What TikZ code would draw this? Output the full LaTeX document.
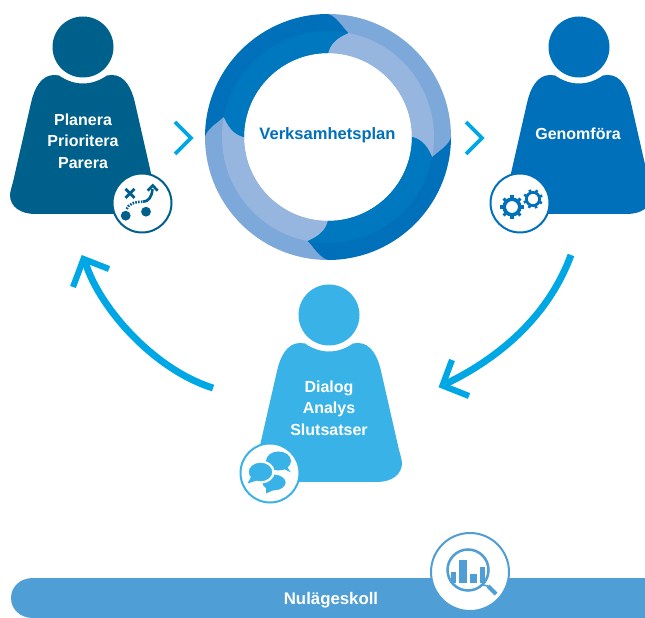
\documentclass[tikz,border=0pt]{standalone}
\usepackage{fontspec}
\usetikzlibrary{calc}
\setmainfont{Liberation Sans}
\definecolor{cplan}{HTML}{00608C}
\definecolor{cgen}{HTML}{0070BA}
\definecolor{cdia}{HTML}{39B3E7}
\definecolor{cbar}{HTML}{4F9ED6}
\definecolor{carrow}{HTML}{00A7E5}
\definecolor{ringdo}{HTML}{0070BA}
\definecolor{ringdi}{HTML}{0078BF}
\definecolor{ringlo}{HTML}{7DA8DA}
\definecolor{ringli}{HTML}{97B6DF}
\tikzset{
  x=0.75pt,y=0.75pt,
  label text/.style={font=\bfseries\fontsize{12}{16}\selectfont,text=white,align=center,inner sep=0pt},
  flow/.style={draw=carrow,line width=5.2pt,line cap=butt},
  head/.style={draw=carrow,line width=4.6pt,line join=miter,miter limit=10},
  chev/.style={draw=carrow,line width=2.8pt,line join=miter,miter limit=10},
  badge/.style={fill=white,draw=#1,line width=1.5pt},
}
\newcommand{\personbody}{
  (24,-28.5) .. controls (16,-34) and (8,-36.5) .. (0,-36.5)
  .. controls (-8,-36.5) and (-16,-34) .. (-24,-28.5)
  .. controls (-26,-28) and (-27,-28) .. (-29,-28)
  .. controls (-42,-28) and (-49,-42) .. (-52,-56)
  -- (-70,-135) .. controls (-72,-142) and (-73,-146) .. (-73,-148)
  .. controls (-73,-160) and (-62,-167) .. (-48,-167)
  -- (48,-167) .. controls (62,-167) and (73,-160) .. (73,-148)
  .. controls (73,-146) and (72,-142) .. (70,-135)
  -- (52,-56) .. controls (49,-42) and (42,-28) .. (29,-28)
  .. controls (27,-28) and (26,-28) .. (24,-28.5) -- cycle}
\newcommand{\segpath}[1]{
  (#1:123) arc[start angle=#1,end angle=#1-90,radius=123]
  .. controls ({#1-90-4}:121) and ({#1-90-7}:112) .. ({#1-90-11}:106)
  .. controls ({#1-90-3}:98) and ({#1-90-1}:90) .. ({#1-90}:84)
  arc[start angle=#1-90,end angle=#1,radius=84]
  .. controls ({#1-1}:90) and ({#1-3}:98) .. ({#1-11}:106)
  .. controls ({#1-7}:112) and ({#1-4}:121) .. (#1:123) -- cycle}
\newcommand{\ringseg}[3]{%
  \fill[#2] \segpath{#1};
  \begin{scope}
    \clip \segpath{#1};
    \fill[#3] (0,0) circle[radius=106];
  \end{scope}}
% centre, rotation, ring radius, ring width, tooth inner, tooth outer, tooth width
\newcommand{\gear}[7]{%
  \begin{scope}[shift={(#1)}]
    \draw[cgen,line width=#4] (0,0) circle[radius=#3];
    \foreach \a in {0,45,...,315}
      \draw[cgen,line width=#7] (\a+#2:#5) -- (\a+#2:#6);
  \end{scope}}
\begin{document}
\begin{tikzpicture}
\useasboundingbox (0,0) rectangle (645,617);
\clip (0,0) rectangle (645,617);
\fill[white] (0,0) rectangle (645,617);

% ring
\begin{scope}[shift={(328,480)}]
  \ringseg{90}{ringlo}{ringli}
  \ringseg{270}{ringlo}{ringli}
  \ringseg{180}{ringdo}{ringdi}
  \ringseg{360}{ringdo}{ringdi}
\end{scope}
\node[font=\bfseries\fontsize{12.4}{16}\selectfont,text=cgen,inner sep=0pt] (plan) at (327.5,481.5) {Verksamhetsplan};

% person 1
\begin{scope}[shift={(83,570)}]
  \fill[cplan] (0,0) circle[radius=30.5];
  \fill[cplan] \personbody;
\end{scope}
\node[label text] (planera) at (83,476) {Planera\\Prioritera\\Parera};

% person 3
\begin{scope}[shift={(579,570)}]
  \fill[cgen] (0,0) circle[radius=30.5];
  \fill[cgen] \personbody;
\end{scope}
\node[label text] (genomfora) at (578,483) {Genomföra};

% person 2
\begin{scope}[shift={(329,302)}]
  \fill[cdia] (0,0) circle[radius=30.5];
  \fill[cdia] \personbody;
\end{scope}
\node[label text] (dialog) at (329,209) {Dialog\\Analys\\Slutsatser};

% chevrons
\coordinate (c1a) at (175,495); \coordinate (c1b) at (191,479); \coordinate (c1c) at (175,463);
\coordinate (c2a) at (466,495); \coordinate (c2b) at (482,479); \coordinate (c2c) at (466,463);
\draw[chev] (c1a) -- (c1b) -- (c1c);
\draw[chev] (c2a) -- (c2b) -- (c2c);

% flow arrows
\coordinate (a1s) at (213,229); \coordinate (a1t) at (83.5,358);
\coordinate (a1w) at (73,330); \coordinate (a1v) at (109,348);
\draw[flow] (a1s) .. controls (155,247) and (100,308) .. ($(a1t)+(2,-4)$);
\draw[head] (a1w) -- (a1t) -- (a1v);
\coordinate (a2s) at (571,362); \coordinate (a2t) at (442.5,231.5);
\coordinate (a2w) at (452,257); \coordinate (a2v) at (469,221);
\draw[flow] (a2s) .. controls (550,305) and (505,262) .. ($(a2t)+(4,2)$);
\draw[head] (a2w) -- (a2t) -- (a2v);

% bar
\fill[cbar] (650,39) -- (33,39) .. controls (20,39) and (11,30) .. (11,19) .. controls (11,8) and (20,-1) .. (33,-1) -- (650,-1) -- cycle;
\node[font=\bfseries\fontsize{12.6}{16}\selectfont,text=white,inner sep=0pt] (nulage) at (331,17) {Nulägeskoll};

% badge 1
\fill[badge=cplan] (142,414) circle[radius=29.5];
\begin{scope}[cplan]
  \fill (125.7,401.3) circle[radius=4.9];
  \fill (146,405.3) circle[radius=4.9];
  \draw[line width=2.1pt] (125.5,428.2) -- (134.5,419.2) (125.5,419.2) -- (134.5,428.2);
  \draw[line width=1.9pt,dash pattern=on 1.2pt off 0.9pt] (126.7,408) .. controls (128,412) and (133,415.3) .. (143,415.3);
  \draw[line width=2pt] (143,415.3) .. controls (148,415.3) and (152.3,420) .. (152.3,428);
  \draw[line width=2pt,line join=miter] (147.7,426.3) -- (152.7,431.5) -- (157.7,426.3);
\end{scope}

% badge 3
\fill[badge=cgen] (520,414) circle[radius=29.5];
\gear{512,410}{0}{7.8}{2.7pt}{9}{12}{2.3pt}
\gear{533,418}{20}{6.6}{2.1pt}{7.5}{9.8}{2pt}

% badge 2
\fill[badge=cdia] (270,144) circle[radius=29.5];
\fill[cdia] (278.5,156) ellipse[x radius=12.5,y radius=9.5];
\fill[cdia] (280,150) -- (291,144.5) -- (285,153) -- cycle;
\fill[cdia,draw=white,line width=1.5pt] (274,134.5) ellipse[x radius=12.8,y radius=9];
\fill[cdia] (266,130) -- (266,123.5) -- (276,128) -- cycle;
\fill[cdia,draw=white,line width=1.7pt] (260.5,145) ellipse[x radius=13,y radius=10.5];
\fill[cdia] (251,140) -- (247.5,133.5) -- (261,138) -- cycle;

% magnifier badge
\fill[badge=cbar] (470,45) circle[radius=39];
\begin{scope}[cbar]
  \draw[line width=1.9pt] (468,47) circle[radius=20.5];
  \fill (451,34.5) rectangle (456,45.5);
  \fill (459,34) rectangle (467,57);
  \fill (470,34) rectangle (477,43);
  \fill (480,34) rectangle (485,50);
  \draw[line width=1.2pt] (483,32) -- (488,31);
  \draw[line width=3pt] (488,31) -- (496,23);
\end{scope}
\end{tikzpicture}
\end{document}
